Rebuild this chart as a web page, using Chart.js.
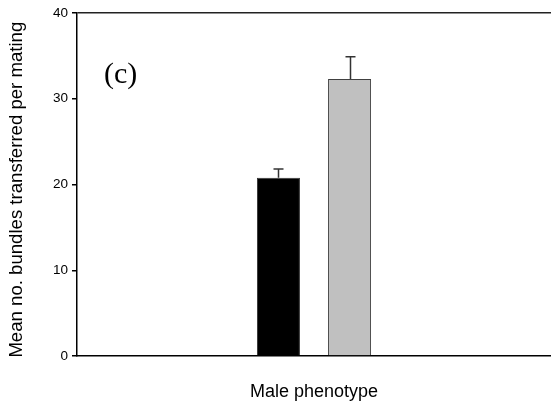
<!DOCTYPE html>
<html>
<head>
<meta charset="utf-8">
<script src="https://cdn.jsdelivr.net/npm/chart.js@4/dist/chart.umd.min.js"></script>
<style>
  html, body { margin: 0; padding: 0; background: #fff; }
  #wrap { position: relative; width: 551px; height: 406px; }
</style>
</head>
<body>
<div id="wrap"><canvas id="c" width="551" height="406"></canvas></div>
<script>
// Mean bundles transferred per mating, with standard errors, for two male phenotypes
const phenotypes = ['Dark', 'Pale'];
const meanBundles = [20.8, 32.3];
const seBundles = [1.0, 2.6];
const yTicks = [0, 10, 20, 30, 40];

const fills = ['#000000', '#c0c0c0'];
const edges = ['#333333', '#404040'];

// Upper error bars with a cap, placed on each bar element
const errorBars = {
  id: 'errorBars',
  afterDatasetsDraw(chart) {
    const ctx = chart.ctx;
    const y = chart.scales.y;
    ctx.save();
    ctx.strokeStyle = '#333333';
    ctx.lineWidth = 1.5;
    chart.data.datasets.forEach((ds, i) => {
      const bar = chart.getDatasetMeta(i).data[0];
      const x = Math.round(bar.x) + 0.5;
      const top = y.getPixelForValue(ds.data[0]);
      const hi = y.getPixelForValue(ds.data[0] + ds.err);
      ctx.beginPath();
      ctx.moveTo(x, top);
      ctx.lineTo(x, hi);
      ctx.moveTo(x - 5, hi);
      ctx.lineTo(x + 5, hi);
      ctx.stroke();
    });
    ctx.restore();
  }
};

// Panel letter
const panelLabel = {
  id: 'panelLabel',
  afterDraw(chart) {
    const ctx = chart.ctx;
    ctx.save();
    ctx.fillStyle = '#000';
    ctx.font = '30px "Liberation Serif", "Times New Roman", serif';
    ctx.textBaseline = 'alphabetic';
    ctx.textAlign = 'left';
    ctx.fillText('(c)', 104, 83);
    ctx.restore();
  }
};

new Chart(document.getElementById('c'), {
  type: 'bar',
  data: {
    labels: [''],
    datasets: phenotypes.map((p, i) => ({
      label: p,
      data: [meanBundles[i]],
      err: seBundles[i],
      backgroundColor: fills[i],
      borderColor: edges[i],
      borderWidth: 1,
      borderSkipped: 'bottom',
      barPercentage: 0.605,
      categoryPercentage: 0.3
    }))
  },
  options: {
    responsive: false,
    animation: false,
    devicePixelRatio: 1,
    layout: { padding: { top: 13, right: -3, bottom: 0, left: 0 } },
    plugins: { legend: { display: false }, tooltip: { enabled: false } },
    scales: {
      x: {
        grid: { display: false },
        ticks: { display: false },
        border: { display: true, color: '#000', width: 1.5 },
        title: {
          display: true,
          text: 'Male phenotype',
          color: '#000',
          font: { family: '"Liberation Sans", Arial, sans-serif', size: 18 },
          padding: { top: 24, bottom: 3 }
        },
        afterFit(s) { s.height = 50; }
      },
      y: {
        min: 0,
        max: 40,
        afterBuildTicks(s) { s.ticks = yTicks.map(v => ({ value: v })); },
        grid: {
          drawOnChartArea: true,
          drawTicks: true,
          tickLength: 5,
          color: ctx => (ctx.tick && ctx.tick.value === 40 ? '#222' : 'rgba(0,0,0,0)'),
          tickColor: '#000',
          lineWidth: 1.5
        },
        border: { display: true, color: '#000', width: 1.5 },
        ticks: {
          color: '#000',
          padding: 4,
          font: { family: '"Liberation Sans", Arial, sans-serif', size: 13.5 }
        },
        title: {
          display: true,
          // trailing spaces nudge the rotated title slightly toward the baseline
          text: 'Mean no. bundles transferred per mating  ',
          color: '#000',
          font: { family: '"Liberation Sans", Arial, sans-serif', size: 18.6 },
          padding: { top: 6, bottom: 0 }
        },
        afterFit(s) { s.width = 77; }
      }
    }
  },
  plugins: [errorBars, panelLabel]
});
</script>
</body>
</html>
